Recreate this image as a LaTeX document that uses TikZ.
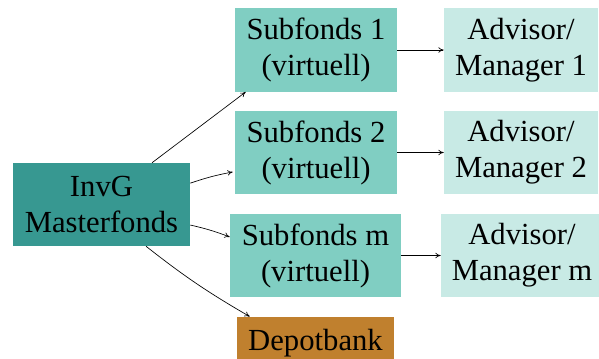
\documentclass[tikz,border=0pt]{standalone}
\usepackage{fontspec}
\setmainfont{Liberation Serif}
\usetikzlibrary{arrows.meta}
\definecolor{darkteal}{HTML}{379891}
\definecolor{midteal}{HTML}{80CEC2}
\definecolor{lightteal}{HTML}{C8EAE5}
\definecolor{depotbrown}{HTML}{C0802E}
\tikzset{
  boxbase/.style={inner sep=0pt, align=center, font=\fontsize{23}{27}\selectfont, text=black},
  masterbox/.style={boxbase, fill=darkteal, minimum width=132.75pt, minimum height=62.25pt},
  subbox/.style={boxbase, fill=midteal, minimum width=121.5pt, minimum height=62.5pt},
  advbox/.style={boxbase, fill=lightteal, minimum width=115.5pt, minimum height=62.5pt},
  depotbox/.style={boxbase, fill=depotbrown, minimum width=117.75pt, minimum height=40pt},
  arr/.style={-{To[length=4pt,width=4pt]}, line width=0.5pt, black}
}
\begin{document}
\begin{tikzpicture}[x=0.75pt,y=-0.75pt]
\useasboundingbox (0,0) rectangle (599,358);
\clip (0,0) rectangle (599,358);
\node[masterbox] (invg) at (101.5,204.5) {InvG\\Masterfonds};
\node[subbox] (sub1) at (316,50) {Subfonds 1\\(virtuell)};
\node[subbox] (sub2) at (316,152.5) {Subfonds 2\\(virtuell)};
\node[subbox, minimum width=128.25pt] (subm) at (315.5,255.5) {Subfonds m\\(virtuell)};
\node[depotbox] (depot) at (315.5,343.5) {Depotbank};
\node[advbox] (adv1) at (521,50) {Advisor/\\Manager 1};
\node[advbox] (adv2) at (521,152.5) {Advisor/\\Manager 2};
\node[advbox, minimum width=121.5pt] (advm) at (522,255.5) {Advisor/\\Manager m};
\draw[arr] ([xshift=37.9pt]invg.north) -- ([xshift=8.25pt]sub1.south west);
\draw[arr] ([yshift=16pt]invg.east) to[bend left=4] ([xshift=-1.5pt,yshift=-14.6pt]sub2.west);
\draw[arr] ([yshift=-15.4pt]invg.east) to[bend left=4] ([yshift=13.9pt]subm.west);
\draw[arr] ([xshift=33.4pt]invg.south) to[bend right=4] ([xshift=9.75pt]depot.north west);
\draw[arr] (sub1.east) -- (adv1.west);
\draw[arr] (sub2.east) -- (adv2.west);
\draw[arr] (subm.east) -- (advm.west);
\end{tikzpicture}
\end{document}
